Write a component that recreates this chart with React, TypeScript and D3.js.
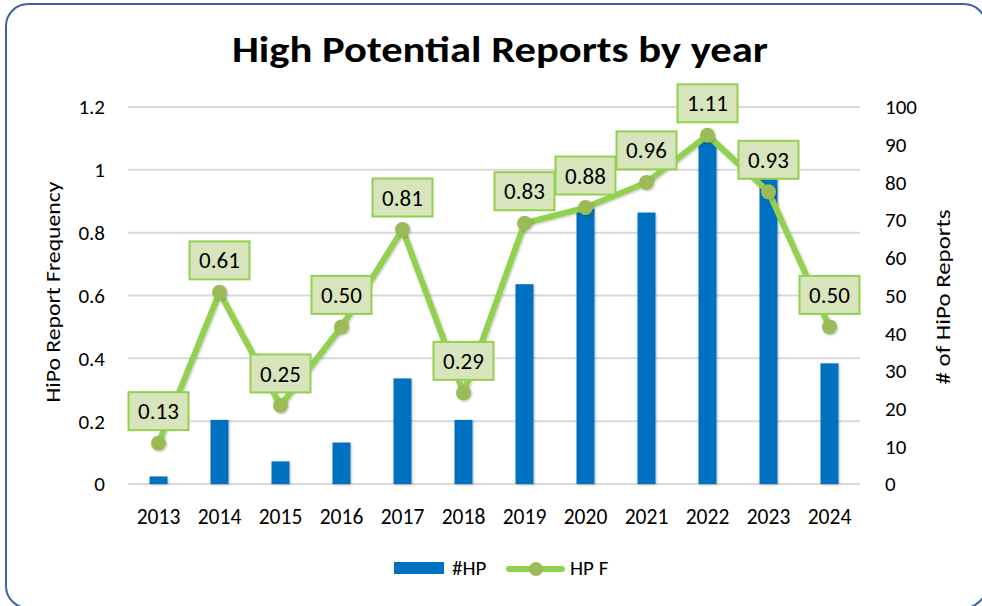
import React from 'react';
import * as d3 from 'd3';

const years = ['2013', '2014', '2015', '2016', '2017', '2018', '2019', '2020', '2021', '2022', '2023', '2024'];
const hpCounts = [2, 17, 6, 11, 28, 17, 53, 73, 72, 91, 82, 32];
const hpFreq = [0.13, 0.61, 0.25, 0.5, 0.81, 0.29, 0.83, 0.88, 0.96, 1.11, 0.93, 0.5];
const leftTicks = [0, 0.2, 0.4, 0.6, 0.8, 1, 1.2];
const rightTicks = [0, 10, 20, 30, 40, 50, 60, 70, 80, 90, 100];

const W = 982;
const H = 606;
const font = 'Calibri, Carlito, Lato, sans-serif';
const margin = { left: 128, right: 860, top: 107, bottom: 484 };

export default function App() {
  const x = d3.scaleBand().domain(years).range([margin.left, margin.right]);
  const yL = d3.scaleLinear().domain([0, 1.2]).range([margin.bottom, margin.top]);
  const yR = d3.scaleLinear().domain([0, 100]).range([margin.bottom, margin.top]);
  const cx = (y: string) => (x(y) as number) + x.bandwidth() / 2;
  const barW = 18;

  const line = d3.line<number>()
    .x((_, i) => cx(years[i]))
    .y(d => yL(d));

  return (
    <svg width={W} height={H} style={{ position: 'absolute', left: 0, top: 0 }} fontFamily={font}>
      <defs>
        <filter id="shadow" x="-50%" y="-50%" width="200%" height="200%">
          <feDropShadow dx="1" dy="1" stdDeviation="1.2" floodColor="#000" floodOpacity="0.25" />
        </filter>
      </defs>
      <rect x={0} y={0} width={W} height={H} fill="#fff" />
      <rect x={6} y={4} width={980} height={604} rx={22} ry={22} fill="#fff" stroke="#3c65a0" strokeWidth={2} />

      <text x={500} y={62} textAnchor="middle" fontSize={37} fontWeight="bold" fill="#000"
        textLength={536} lengthAdjust="spacingAndGlyphs">High Potential Reports by year</text>

      {leftTicks.map(t => (
        <g key={'l' + t}>
          <line x1={margin.left} x2={margin.right} y1={yL(t)} y2={yL(t)} stroke="#d9d9d9" strokeWidth={2} />
          <text x={105} y={yL(t)} dy="0.35em" textAnchor="end" fontSize={21} fill="#000">{d3.format('~g')(t)}</text>
        </g>
      ))}
      {rightTicks.map(t => (
        <text key={'r' + t} x={885} y={yR(t)} dy="0.35em" textAnchor="start" fontSize={21} fill="#000">{t}</text>
      ))}

      <text transform={`translate(60,292) rotate(-90)`} textAnchor="middle" fontSize={21} fill="#000"
        textLength={221} lengthAdjust="spacingAndGlyphs">HiPo Report Frequency</text>
      <text transform={`translate(950,297) rotate(-90)`} textAnchor="middle" fontSize={21} fill="#000"
        textLength={175} lengthAdjust="spacingAndGlyphs"># of HiPo Reports</text>

      {years.map((y, i) => (
        <rect key={'b' + y} x={cx(y) - barW / 2} y={yR(hpCounts[i])} width={barW}
          height={margin.bottom - yR(hpCounts[i])} fill="#0070c0" filter="url(#shadow)" />
      ))}

      {years.map(y => (
        <text key={'x' + y} x={cx(y)} y={524} textAnchor="middle" fontSize={21.5} fill="#000">{y}</text>
      ))}

      <path d={line(hpFreq) || ''} fill="none" stroke="#92d050" strokeWidth={6} strokeLinejoin="round" filter="url(#shadow)" />
      {years.map((y, i) => (
        <circle key={'m' + y} cx={cx(y)} cy={yL(hpFreq[i])} r={7.5} fill="#9bbb59" filter="url(#shadow)" />
      ))}

      {years.map((y, i) => {
        const my = yL(hpFreq[i]);
        return (
          <g key={'lab' + y}>
            <rect x={cx(y) - 30} y={my - 51} width={60} height={38} fill="#d8e4bc" stroke="#92d050" strokeWidth={2} />
            <text x={cx(y)} y={my - 32} dy="0.35em" textAnchor="middle" fontSize={23} fill="#000">{hpFreq[i].toFixed(2)}</text>
          </g>
        );
      })}

      <rect x={394} y={562} width={50} height={12} fill="#0070c0" />
      <text x={452} y={568} dy="0.35em" fontSize={21} fill="#000">#HP</text>
      <line x1={509} x2={562} y1={569} y2={569} stroke="#92d050" strokeWidth={6} strokeLinecap="round" />
      <circle cx={536} cy={569} r={7} fill="#9bbb59" />
      <text x={570} y={568} dy="0.35em" fontSize={21} fill="#000">HP F</text>
    </svg>
  );
}
